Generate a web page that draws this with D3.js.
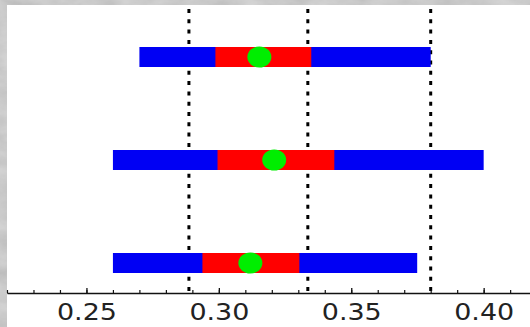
<!DOCTYPE html>
<html>
<head>
<meta charset="utf-8">
<script src="https://cdn.jsdelivr.net/npm/d3@7"></script>
<style>
  body { margin: 0; padding: 0; background: #d4d4d4; }
  svg { display: block; }
  .axis text { font-family: "DejaVu Sans", sans-serif; fill: #222; }
  .axis path, .axis line { stroke: #111; }
</style>
</head>
<body>
<div id="chart"></div>
<script>
// rows, top to bottom
var rows = ["row1", "row2", "row3"];
var lowValues = [0.27, 0.26, 0.26];
var q1Values = [0.2987, 0.2995, 0.2938];
var medianValues = [0.3153, 0.3209, 0.3119];
var q3Values = [0.3349, 0.3436, 0.3304];
var highValues = [0.38, 0.40, 0.3749];

// dotted reference lines
var refLines = [0.2887, 0.3336, 0.38];

// tick values
var majorTicks = [0.25, 0.30, 0.35, 0.40];
var minorTicks = [0.22, 0.23, 0.24, 0.25, 0.26, 0.27, 0.28, 0.29, 0.30, 0.31,
                  0.32, 0.33, 0.34, 0.35, 0.36, 0.37, 0.38, 0.39, 0.40, 0.41];

var width = 530, height = 327;

var svg = d3.select("#chart")
  .append("svg")
  .attr("width", width)
  .attr("height", height);

//marble-ish gray background
var defs = svg.append("defs");
var filter = defs.append("filter").attr("id", "marble");
filter.append("feTurbulence")
  .attr("type", "fractalNoise")
  .attr("baseFrequency", "0.035 0.06")
  .attr("numOctaves", 4)
  .attr("seed", 3);
filter.append("feColorMatrix")
  .attr("type", "matrix")
  .attr("values", "0.33 0.33 0.33 0 0  0.33 0.33 0.33 0 0  0.33 0.33 0.33 0 0  0 0 0 0 1");

svg.append("rect")
  .attr("width", width)
  .attr("height", height)
  .attr("fill", "#d2d2d2");
svg.append("rect")
  .attr("width", width)
  .attr("height", height)
  .attr("fill", "#fff")
  .attr("opacity", 0.3)
  .attr("filter", "url(#marble)");

//white plot panel
svg.append("rect")
  .attr("x", 7)
  .attr("y", 5)
  .attr("width", width - 7)
  .attr("height", height - 5)
  .attr("fill", "#fff");

//scales
var xScale = d3.scaleLinear()
  .domain([0.22, 0.4175])
  .range([7, 530]);

var yScale = d3.scalePoint()
  .domain(rows)
  .range([57, 263]);

var barHeight = 20;
var axisY = 293;

//dotted lines
svg.selectAll(".ref")
  .data(refLines)
  .enter()
  .append("line")
  .attr("class", "ref")
  .attr("x1", function(d) { return xScale(d); })
  .attr("x2", function(d) { return xScale(d); })
  .attr("y1", 9)
  .attr("y2", axisY)
  .style("stroke", "#000")
  .style("stroke-width", 3)
  .style("stroke-dasharray", "4,6.3");

var data = rows.map(function(r, i) {
  return { row: r, low: lowValues[i], q1: q1Values[i], med: medianValues[i],
           q3: q3Values[i], high: highValues[i] };
});

//blue range bars
svg.selectAll(".range")
  .data(data)
  .enter()
  .append("rect")
  .attr("class", "range")
  .attr("x", function(d) { return xScale(d.low); })
  .attr("width", function(d) { return xScale(d.high) - xScale(d.low); })
  .attr("y", function(d) { return yScale(d.row) - barHeight / 2; })
  .attr("height", barHeight)
  .attr("fill", "#0000f4");

//red inner bars
svg.selectAll(".inner")
  .data(data)
  .enter()
  .append("rect")
  .attr("class", "inner")
  .attr("x", function(d) { return xScale(d.q1); })
  .attr("width", function(d) { return xScale(d.q3) - xScale(d.q1); })
  .attr("y", function(d) { return yScale(d.row) - barHeight / 2; })
  .attr("height", barHeight)
  .attr("fill", "#ff0000");

//green markers
svg.selectAll(".med")
  .data(data)
  .enter()
  .append("ellipse")
  .attr("class", "med")
  .attr("cx", function(d) { return xScale(d.med); })
  .attr("cy", function(d) { return yScale(d.row); })
  .attr("rx", 12)
  .attr("ry", 10.5)
  .attr("fill", "#00ee00");

//minor ticks
svg.append("g")
  .attr("class", "axis")
  .attr("transform", "translate(0," + axisY + ")")
  .call(d3.axisBottom(xScale).tickValues(minorTicks).tickSizeInner(-3).tickSizeOuter(0).tickFormat(""))
  .selectAll("line")
  .style("stroke-width", 1.2);

//major ticks with labels
var major = svg.append("g")
  .attr("class", "axis")
  .attr("transform", "translate(0," + axisY + ")")
  .call(d3.axisBottom(xScale).tickValues(majorTicks).tickSizeInner(-5).tickSizeOuter(0)
    .tickFormat(d3.format(".2f")));

major.select(".domain").style("stroke-width", 1.3);
major.selectAll("line").style("stroke-width", 1.3);
major.selectAll("text")
  .attr("y", 27)
  .attr("dy", 0)
  .attr("transform", "scale(1.17,1)")
  .style("font-size", "23px");
</script>
</body>
</html>
